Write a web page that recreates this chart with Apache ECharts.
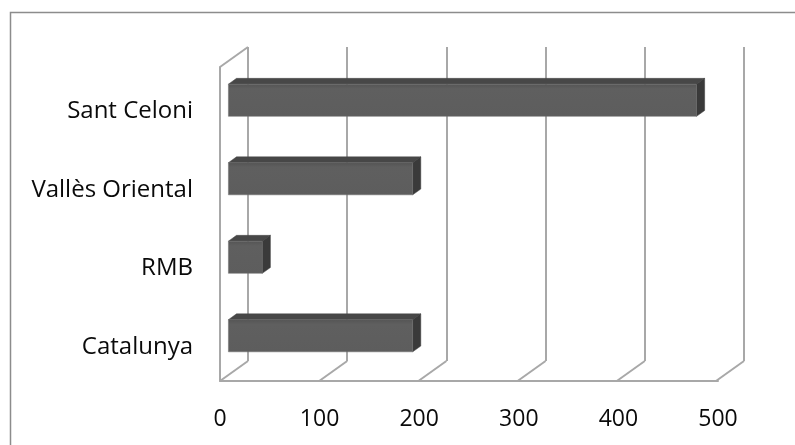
<!DOCTYPE html>
<html>
<head>
<meta charset="utf-8">
<script src="https://cdn.jsdelivr.net/npm/echarts@6/dist/echarts.min.js"></script>
<style>
html,body{margin:0;padding:0;background:#fff;}
#chart{width:795px;height:445px;}
</style>
</head>
<body>
<div id="chart"></div>
<script>
// ---- data ----
var categories = ['Catalunya', 'RMB', 'Vallès Oriental', 'Sant Celoni'];
var values = [185, 34, 185, 470];
var tickValues = [0, 100, 200, 300, 400, 500];

// ---- layout ----
var back = {left: 248, right: 744, top: 47, bottom: 361};
var front = {left: 220, right: 718, top: 67, bottom: 381};
var DX = back.left - front.left;   // depth offset x
var DY = back.top - front.top;     // depth offset y (negative)
var barFrontDepth = 0.3, barDepth = 0.29, barRatio = 0.41;
var gridColor = '#a8a8a8';
var font = 'Open Sans';

var chart = echarts.init(document.getElementById('chart'), null, {renderer: 'canvas'});

var option = {
  animation: false,
  backgroundColor: '#fff',
  graphic: [{
    type: 'rect', silent: true, z: 0,
    shape: {x: 10.5, y: 12.5, width: 820, height: 460},
    style: {fill: 'none', stroke: '#8c8c8c', lineWidth: 1.5}
  }],
  grid: [
    {left: back.left, width: back.right - back.left, top: back.top, height: back.bottom - back.top},
    {left: front.left, width: front.right - front.left, top: front.top, height: front.bottom - front.top}
  ],
  xAxis: [
    {type: 'value', gridIndex: 0, min: 0, max: 500, interval: 100,
     axisLine: {show: false}, axisTick: {show: false}, axisLabel: {show: false},
     splitLine: {show: true, lineStyle: {color: gridColor, width: 2}}},
    {type: 'value', gridIndex: 1, min: 0, max: 500, interval: 100,
     axisLine: {show: true, lineStyle: {color: gridColor, width: 2}},
     axisTick: {show: false}, splitLine: {show: false},
     axisLabel: {show: true, margin: 27, color: '#0a0a0a', fontFamily: font, fontSize: 23}}
  ],
  yAxis: [
    {type: 'category', gridIndex: 0, data: categories,
     axisLine: {show: false}, axisTick: {show: false}, axisLabel: {show: false}, splitLine: {show: false}},
    {type: 'category', gridIndex: 1, data: categories,
     axisLine: {show: true, lineStyle: {color: gridColor, width: 2}},
     axisTick: {show: false}, splitLine: {show: false},
     axisLabel: {show: true, margin: 27, color: '#0a0a0a', fontFamily: font, fontSize: 24,
                 formatter: function (v) { return '{a|' + v + '}'; },
                 rich: {a: {fontFamily: font, fontSize: 24, color: '#0a0a0a', lineHeight: 24,
                            padding: [10, 0, 0, 0]}}}}
  ],
  series: [
    {
      // floor diagonals and left wall top edge
      type: 'custom', xAxisIndex: 0, yAxisIndex: 0, silent: true, z: 1,
      data: tickValues.map(function (t) { return [t, 0]; }),
      renderItem: function (params, api) {
        var cs = params.coordSys;
        var x = api.coord([api.value(0), 0])[0];
        var yb = cs.y + cs.height;
        var children = [{
          type: 'line',
          shape: {x1: x, y1: yb, x2: x - DX, y2: yb - DY},
          style: {stroke: gridColor, lineWidth: 2}
        }];
        if (api.value(0) === 0) {
          children.push({
            type: 'line',
            shape: {x1: x, y1: cs.y, x2: x - DX, y2: cs.y - DY},
            style: {stroke: gridColor, lineWidth: 2}
          });
        }
        return {type: 'group', children: children};
      }
    },
    {
      // 3D bars
      type: 'custom', xAxisIndex: 1, yAxisIndex: 1, z: 3,
      data: values.map(function (v, i) { return [v, i]; }),
      encode: {x: 0, y: 1},
      renderItem: function (params, api) {
        var v = api.value(0), idx = api.value(1);
        var p0 = api.coord([0, idx]);
        var p1 = api.coord([v, idx]);
        var band = api.size([0, 1])[1];
        var h = band * barRatio;
        var ox = DX * barFrontDepth, oy = DY * barFrontDepth;
        var dx = DX * barDepth, dy = DY * barDepth;
        var x0 = p0[0] + ox, x1 = p1[0] + ox;
        var yc = p0[1] + oy;
        var yt = yc - h / 2, yb = yc + h / 2;
        return {
          type: 'group',
          children: [
            {type: 'polygon', shape: {points: [[x0, yt], [x1, yt], [x1 + dx, yt + dy], [x0 + dx, yt + dy]]},
             style: {fill: '#474747', stroke: '#474747', lineWidth: 0.5}},
            {type: 'polygon', shape: {points: [[x1, yt], [x1 + dx, yt + dy], [x1 + dx, yb + dy], [x1, yb]]},
             style: {fill: '#3a3a3a', stroke: '#3a3a3a', lineWidth: 0.5}},
            {type: 'rect', shape: {x: x0, y: yt, width: x1 - x0, height: h},
             style: {fill: {type: 'linear', x: 0, y: 0, x2: 0, y2: 1, colorStops: [
               {offset: 0, color: '#545454'}, {offset: 0.15, color: '#5f5f5f'}, {offset: 1, color: '#5d5d5d'}]},
               stroke: '#6e6e6e', lineWidth: 0.5}}
          ]
        };
      }
    }
  ]
};
chart.setOption(option);
</script>
</body>
</html>
